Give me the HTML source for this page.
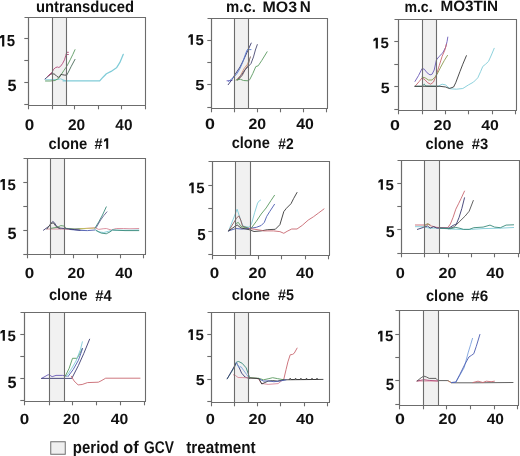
<!DOCTYPE html>
<html><head><meta charset="utf-8"><style>
html,body{margin:0;padding:0;background:#fff;}
body{width:520px;height:456px;overflow:hidden;}
svg{display:block;will-change:transform;}
text{font-family:"Liberation Sans",sans-serif;font-weight:bold;fill:#111;text-rendering:geometricPrecision;}
</style></head><body>
<svg width="520" height="456" viewBox="0 0 520 456">
<rect width="520" height="456" fill="#fff"/>
<rect x="52.5" y="17.5" width="14" height="88" fill="#f1f1f1"/>
<path d="M45.5 79.8L58 79.5L60.5 78.8L63 79.8L66 80.8" fill="none" stroke="#80ccd8" stroke-width="0.9" stroke-linejoin="round" stroke-linecap="round"/>
<path d="M63 80.8L99.7 80.8L103 77.2L106.4 73.8L111.1 71.4L116.5 67.8L119.9 62.4L123.3 54.3" fill="none" stroke="#80ccd8" stroke-width="1.25" stroke-linejoin="round" stroke-linecap="round"/>
<path d="M45.5 81L50 81L55 80.5L58.8 78.2L61.4 74.3L64 70.3L65.8 67.7L67.5 65L70.2 59.8L72.8 54.5L75 49.7" fill="none" stroke="#5a9a60" stroke-width="0.9" stroke-linejoin="round" stroke-linecap="round"/>
<path d="M66.7 75.1L68.4 72.1L71 66.8L75 59.4" fill="none" stroke="#4a6a58" stroke-width="0.9" stroke-linejoin="round" stroke-linecap="round"/>
<path d="M52.2 74.3L54 73.8L55.7 75.1L57 76.5L58.3 77.3L59.6 76.5L61 74.3L62.3 74.7L64.5 75.1L66.7 75.1" fill="none" stroke="#383838" stroke-width="0.9" stroke-linejoin="round" stroke-linecap="round"/>
<path d="M45 79L48.5 76L52 73" fill="none" stroke="#3a3a70" stroke-width="0.9" stroke-linejoin="round" stroke-linecap="round"/>
<path d="M47.5 76.5L50 74.3L52.2 73.8" fill="none" stroke="#8a5a5a" stroke-width="0.9" stroke-linejoin="round" stroke-linecap="round"/>
<path d="M48 76L52.2 72.1L53.5 69.4L55.7 67.5L57.5 67L58.8 67.5L60.5 66.4L62.7 63.3L64.5 59.8L65.8 55.4L66.7 52.3L68.4 52.3" fill="none" stroke="#b04878" stroke-width="0.9" stroke-linejoin="round" stroke-linecap="round"/>
<path d="M66.7 54.5L68.4 54.5" fill="none" stroke="#b04878" stroke-width="0.9" stroke-linejoin="round" stroke-linecap="round"/>
<path d="M24.5 17.5H145.5V105.5" fill="none" stroke="#6c6c6c" stroke-width="1.1"/>
<path d="M28.5 17.5V105.5" stroke="#6c6c6c" stroke-width="1.2"/>
<path d="M24.3 104.5H28.5" stroke="#6c6c6c" stroke-width="1.1"/>
<path d="M24.3 82.5H28.5" stroke="#6c6c6c" stroke-width="1.1"/>
<path d="M24.3 60.5H28.5" stroke="#6c6c6c" stroke-width="1.1"/>
<path d="M24.3 38.5H28.5" stroke="#6c6c6c" stroke-width="1.1"/>
<path d="M28 105.5H146" stroke="#6c6c6c" stroke-width="1.2"/>
<path d="M28.5 105.5V109.3" stroke="#6c6c6c" stroke-width="1.1"/>
<path d="M52.5 105.5V109.3" stroke="#6c6c6c" stroke-width="1.1"/>
<path d="M74.5 105.5V109.3" stroke="#6c6c6c" stroke-width="1.1"/>
<path d="M98.5 105.5V109.3" stroke="#6c6c6c" stroke-width="1.1"/>
<path d="M121.5 105.5V109.3" stroke="#6c6c6c" stroke-width="1.1"/>
<path d="M145.5 105.5V109.3" stroke="#6c6c6c" stroke-width="1.1"/>
<path d="M52.5 17.5V105.5M66.5 17.5V105.5" stroke="#6c6c6c" stroke-width="1.1"/>
<rect x="234.5" y="18.5" width="14" height="90" fill="#f1f1f1"/>
<path d="M227 80.8L232 80.5" fill="none" stroke="#6a5ab8" stroke-width="0.9" stroke-linejoin="round" stroke-linecap="round"/>
<path d="M228.2 84.7L232 79.5L235 74.5L240 67L244 59L247.7 50.8L251.2 43.1" fill="none" stroke="#3a3a70" stroke-width="0.9" stroke-linejoin="round" stroke-linecap="round"/>
<path d="M228.5 81.5L234 77L237 73.5L239.6 69.2L242.7 62.3L245 55.4L246.9 50.4L248.1 48.8" fill="none" stroke="#5a7cd0" stroke-width="0.9" stroke-linejoin="round" stroke-linecap="round"/>
<path d="M248.5 49.6L251 49.6" fill="none" stroke="#5a7cd0" stroke-width="0.9" stroke-linejoin="round" stroke-linecap="round"/>
<path d="M236.2 80L240.5 75.5L244.3 68.2L247.4 64.3L248.6 61.5" fill="none" stroke="#d09070" stroke-width="0.9" stroke-linejoin="round" stroke-linecap="round"/>
<path d="M237.8 80.2L242.3 75.3L245.4 69.2L248.1 65.4L249.6 59.2L250.4 56.9" fill="none" stroke="#7a5a50" stroke-width="0.9" stroke-linejoin="round" stroke-linecap="round"/>
<path d="M237.4 79.7L242 74.3L245 69.7L248.2 66.6L251 63.5L253.5 56.9L255.4 50L257.3 44.6" fill="none" stroke="#4a4a72" stroke-width="0.9" stroke-linejoin="round" stroke-linecap="round"/>
<path d="M236.2 80L240.5 79.3L243.5 80.5L248.2 80.8L249.7 79.7L252.8 73.5L255.8 66.6L258.2 65.8L261.7 60.6L267.1 51.8" fill="none" stroke="#5a9a60" stroke-width="0.9" stroke-linejoin="round" stroke-linecap="round"/>
<path d="M207.5 18.5H327.5V108.5" fill="none" stroke="#6c6c6c" stroke-width="1.1"/>
<path d="M211.5 18.5V108.5" stroke="#6c6c6c" stroke-width="1.2"/>
<path d="M207.3 107.5H211.5" stroke="#6c6c6c" stroke-width="1.1"/>
<path d="M207.3 84.5H211.5" stroke="#6c6c6c" stroke-width="1.1"/>
<path d="M207.3 62.5H211.5" stroke="#6c6c6c" stroke-width="1.1"/>
<path d="M207.3 40.5H211.5" stroke="#6c6c6c" stroke-width="1.1"/>
<path d="M211 108.5H328" stroke="#6c6c6c" stroke-width="1.2"/>
<path d="M211.5 108.5V112.3" stroke="#6c6c6c" stroke-width="1.1"/>
<path d="M234.5 108.5V112.3" stroke="#6c6c6c" stroke-width="1.1"/>
<path d="M257.5 108.5V112.3" stroke="#6c6c6c" stroke-width="1.1"/>
<path d="M280.5 108.5V112.3" stroke="#6c6c6c" stroke-width="1.1"/>
<path d="M303.5 108.5V112.3" stroke="#6c6c6c" stroke-width="1.1"/>
<path d="M326.5 108.5V112.3" stroke="#6c6c6c" stroke-width="1.1"/>
<path d="M234.5 18.5V108.5M248.5 18.5V108.5" stroke="#6c6c6c" stroke-width="1.1"/>
<rect x="422.5" y="19.5" width="14" height="91" fill="#f1f1f1"/>
<path d="M415 81.4L418.5 75.6L422.1 68.5L424.3 69.2L427.1 72.8L430 74.9L432.1 74.2L434.2 70L436.4 60L439.2 56.4L442.8 52.8L445.7 47.1L447.1 41.4L447.8 37.1" fill="none" stroke="#6a5ab8" stroke-width="0.9" stroke-linejoin="round" stroke-linecap="round"/>
<path d="M415 86.3L419.3 81.4L422.1 77.8L425 79.9L427.8 82.8L430.7 84.2L433.5 82L436.4 74.9L439.2 65.7L442.1 56.4L444.9 50L446.4 44.3" fill="none" stroke="#c86870" stroke-width="0.9" stroke-linejoin="round" stroke-linecap="round"/>
<path d="M422.1 77.1L425 77.8L428.5 80L432.1 80L435 77.1L437.1 74.2L440.7 67.1L444.2 60.7L447.5 55.4" fill="none" stroke="#8a9a50" stroke-width="0.9" stroke-linejoin="round" stroke-linecap="round"/>
<path d="M415 86.3L422 86.3L424.3 84.2L425.7 86L437.8 86.3" fill="none" stroke="#3a8a7a" stroke-width="0.9" stroke-linejoin="round" stroke-linecap="round"/>
<path d="M437.8 86.3L442.1 84.2L445.7 84.9L447.8 87L450.6 88.8L456.4 89.2L462.8 88.5L468.5 84.9L473.5 82.1L477.8 77.8L480.7 71.4L482.8 66.4L485.6 64.2L488.5 61.4L491.4 55L494.2 48.3" fill="none" stroke="#80ccd8" stroke-width="0.9" stroke-linejoin="round" stroke-linecap="round"/>
<path d="M415 86.3L440 86.3L445.7 87L449.3 88.5L453.6 87L455.7 82.8L460 71.4L462.8 64.2L466.4 55.7" fill="none" stroke="#383838" stroke-width="0.9" stroke-linejoin="round" stroke-linecap="round"/>
<path d="M394.5 19.5H516.5V110.5" fill="none" stroke="#6c6c6c" stroke-width="1.1"/>
<path d="M398.5 19.5V110.5" stroke="#6c6c6c" stroke-width="1.2"/>
<path d="M394.3 109.5H398.5" stroke="#6c6c6c" stroke-width="1.1"/>
<path d="M394.3 86.5H398.5" stroke="#6c6c6c" stroke-width="1.1"/>
<path d="M394.3 64.5H398.5" stroke="#6c6c6c" stroke-width="1.1"/>
<path d="M394.3 41.5H398.5" stroke="#6c6c6c" stroke-width="1.1"/>
<path d="M398 110.5H517" stroke="#6c6c6c" stroke-width="1.2"/>
<path d="M398.5 110.5V114.3" stroke="#6c6c6c" stroke-width="1.1"/>
<path d="M422.5 110.5V114.3" stroke="#6c6c6c" stroke-width="1.1"/>
<path d="M445.5 110.5V114.3" stroke="#6c6c6c" stroke-width="1.1"/>
<path d="M468.5 110.5V114.3" stroke="#6c6c6c" stroke-width="1.1"/>
<path d="M492.5 110.5V114.3" stroke="#6c6c6c" stroke-width="1.1"/>
<path d="M515.5 110.5V114.3" stroke="#6c6c6c" stroke-width="1.1"/>
<path d="M422.5 19.5V110.5M436.5 19.5V110.5" stroke="#6c6c6c" stroke-width="1.1"/>
<rect x="50.5" y="158.5" width="14" height="96" fill="#f1f1f1"/>
<path d="M46.9 229L60 229L70 229.3L80 228.8L95 227.75L98.75 229.4L103.1 228.75L106.25 228.5L111.25 230L116.25 228.5L123.75 228.5L130 228.75L138.75 228.5" fill="none" stroke="#d88898" stroke-width="0.9" stroke-linejoin="round" stroke-linecap="round"/>
<path d="M50.4 228.4L57.3 227.3L60.8 225.6L64.2 226.1L66.5 228.4L75 229L85 228.6" fill="none" stroke="#5a9a60" stroke-width="0.9" stroke-linejoin="round" stroke-linecap="round"/>
<path d="M80 228.6L88 228.4L95 228.1" fill="none" stroke="#c8c060" stroke-width="0.9" stroke-linejoin="round" stroke-linecap="round"/>
<path d="M70 229.5L80 230.4L87.5 230.6L95 230" fill="none" stroke="#4a5ab0" stroke-width="0.9" stroke-linejoin="round" stroke-linecap="round"/>
<path d="M43.5 230.2L49.2 226.1L52.7 221.5L54.4 222.7L56.1 225.6L58.5 227.9L63 228.4L68.8 229L74.6 229.6L80 230.2" fill="none" stroke="#3a3a70" stroke-width="0.9" stroke-linejoin="round" stroke-linecap="round"/>
<path d="M47 229L51 223.3L53.5 223L56 226.5L60 228.5" fill="none" stroke="#505050" stroke-width="0.9" stroke-linejoin="round" stroke-linecap="round"/>
<path d="M95 229.4L98.75 231.9L103.75 232.5L108.75 231.25L112.5 230L117.5 230.25L130 230.25L138.75 230" fill="none" stroke="#80ccd8" stroke-width="0.9" stroke-linejoin="round" stroke-linecap="round"/>
<path d="M96.25 230.6L101.25 233.1L106.25 233.75L110 231.9L112.5 230L125 230.6L138.75 230.6" fill="none" stroke="#3a8a7a" stroke-width="0.9" stroke-linejoin="round" stroke-linecap="round"/>
<path d="M95 228.1L98.75 221.9L102.5 215L106.25 206.9" fill="none" stroke="#3a8a7a" stroke-width="0.9" stroke-linejoin="round" stroke-linecap="round"/>
<path d="M96.25 227.5L100.6 220L103.75 215.6L106.9 211.9" fill="none" stroke="#606090" stroke-width="0.9" stroke-linejoin="round" stroke-linecap="round"/>
<path d="M23.5 158.5H145.5V254.5" fill="none" stroke="#6c6c6c" stroke-width="1.1"/>
<path d="M27.5 158.5V254.5" stroke="#6c6c6c" stroke-width="1.2"/>
<path d="M23.3 254.5H27.5" stroke="#6c6c6c" stroke-width="1.1"/>
<path d="M23.3 230.5H27.5" stroke="#6c6c6c" stroke-width="1.1"/>
<path d="M23.3 206.5H27.5" stroke="#6c6c6c" stroke-width="1.1"/>
<path d="M23.3 182.5H27.5" stroke="#6c6c6c" stroke-width="1.1"/>
<path d="M27 254.5H146" stroke="#6c6c6c" stroke-width="1.2"/>
<path d="M27.5 254.5V258.3" stroke="#6c6c6c" stroke-width="1.1"/>
<path d="M50.5 254.5V258.3" stroke="#6c6c6c" stroke-width="1.1"/>
<path d="M73.5 254.5V258.3" stroke="#6c6c6c" stroke-width="1.1"/>
<path d="M97.5 254.5V258.3" stroke="#6c6c6c" stroke-width="1.1"/>
<path d="M120.5 254.5V258.3" stroke="#6c6c6c" stroke-width="1.1"/>
<path d="M143.5 254.5V258.3" stroke="#6c6c6c" stroke-width="1.1"/>
<path d="M50.5 158.5V254.5M64.5 158.5V254.5" stroke="#6c6c6c" stroke-width="1.1"/>
<rect x="235.5" y="161.5" width="15" height="94" fill="#f1f1f1"/>
<path d="M228.6 230.9L237.1 209.2L240.7 220L243.1 226.1L249.2 227.3L251.6 223.6L254.6 212.8L257.6 203.1L259.4 200.7L260.6 200.1" fill="none" stroke="#80ccd8" stroke-width="0.9" stroke-linejoin="round" stroke-linecap="round"/>
<path d="M228.6 230.9L236.5 218.2L238.9 215.8L240.7 220L242.5 226.1L249.2 228.5" fill="none" stroke="#8a5a5a" stroke-width="0.9" stroke-linejoin="round" stroke-linecap="round"/>
<path d="M235.9 223.6L238.3 222.4L241 226.5L249 228.5L251 228.5L256.4 221.2L261.2 214L266.1 208L270.9 200.7L274.5 195.3" fill="none" stroke="#5a9a60" stroke-width="0.9" stroke-linejoin="round" stroke-linecap="round"/>
<path d="M228.6 230.9L235.9 228.5L241.9 229.1L249.2 228.5L256.4 227.3L261.2 225.5L264.3 222.4L266.7 216.4L269.7 211.6L274.5 204.3" fill="none" stroke="#4a5ab0" stroke-width="0.9" stroke-linejoin="round" stroke-linecap="round"/>
<path d="M228.6 230.9L237.1 224.9L241 228L249.2 229.7L254 231.5L261.2 230.9L267.3 229.7L275.3 229.3L279.9 224.7L283.8 211.6L286.4 208.3L291 203.7L293.7 198.4L297 192.5" fill="none" stroke="#383838" stroke-width="0.9" stroke-linejoin="round" stroke-linecap="round"/>
<path d="M249.2 228.5L255 229.3L261.2 230.3L263.6 230.9L273.3 230.9L279.9 231.6L283.8 233.3L287.1 231.3L291.7 229L297 229L302.2 225.4L308.2 220.1L313.4 216.8L318.7 212.9L324 208.9" fill="none" stroke="#c86870" stroke-width="0.9" stroke-linejoin="round" stroke-linecap="round"/>
<path d="M208.5 161.5H329.5V255.5" fill="none" stroke="#6c6c6c" stroke-width="1.1"/>
<path d="M212.5 161.5V255.5" stroke="#6c6c6c" stroke-width="1.2"/>
<path d="M208.3 254.5H212.5" stroke="#6c6c6c" stroke-width="1.1"/>
<path d="M208.3 231.5H212.5" stroke="#6c6c6c" stroke-width="1.1"/>
<path d="M208.3 208.5H212.5" stroke="#6c6c6c" stroke-width="1.1"/>
<path d="M208.3 185.5H212.5" stroke="#6c6c6c" stroke-width="1.1"/>
<path d="M212 255.5H330" stroke="#6c6c6c" stroke-width="1.2"/>
<path d="M212.5 255.5V259.3" stroke="#6c6c6c" stroke-width="1.1"/>
<path d="M235.5 255.5V259.3" stroke="#6c6c6c" stroke-width="1.1"/>
<path d="M258.5 255.5V259.3" stroke="#6c6c6c" stroke-width="1.1"/>
<path d="M281.5 255.5V259.3" stroke="#6c6c6c" stroke-width="1.1"/>
<path d="M305.5 255.5V259.3" stroke="#6c6c6c" stroke-width="1.1"/>
<path d="M328.5 255.5V259.3" stroke="#6c6c6c" stroke-width="1.1"/>
<path d="M235.5 161.5V255.5M250.5 161.5V255.5" stroke="#6c6c6c" stroke-width="1.1"/>
<rect x="424.5" y="160.5" width="15" height="93" fill="#f1f1f1"/>
<path d="M415.4 226.7L423.5 226.7L428.8 228.1L439.6 228.1L450 229L460 229.4L471.5 229.4L483 228.6L500 228.2L513.6 227.5" fill="none" stroke="#80ccd8" stroke-width="0.9" stroke-linejoin="round" stroke-linecap="round"/>
<path d="M415.4 225L426.2 225L428.8 224L431.5 226L436.9 227.4L447.7 227.8L450.4 224L453.1 217.3L455.8 209.2L458.5 203.8L461.1 198.5L464.5 191.1" fill="none" stroke="#c86870" stroke-width="0.9" stroke-linejoin="round" stroke-linecap="round"/>
<path d="M417.4 229.4L423.5 227.4L427.5 226L430.2 228.1L433.6 226.7L436.9 228.1L449 228.1L453.1 225.4L456.4 224L459.1 217.3L461.8 208.6L464.5 197.8" fill="none" stroke="#3a3a70" stroke-width="0.9" stroke-linejoin="round" stroke-linecap="round"/>
<path d="M449 228.7L454.4 226.7L459.8 221.3L465.2 216L469.2 211.2L473.3 200.5" fill="none" stroke="#505050" stroke-width="0.9" stroke-linejoin="round" stroke-linecap="round"/>
<path d="M439.6 228.1L450.4 228.7L455.8 227.4L460 228.3L463.5 229.4L469.2 229.4L473.8 227.7L483.1 227.1L490 225.1L494.6 227.1L500.4 227.7L506.1 225.1L513.6 224.8" fill="none" stroke="#3a8a7a" stroke-width="0.9" stroke-linejoin="round" stroke-linecap="round"/>
<path d="M424 226L427.5 223.5L430 225.5" fill="none" stroke="#8a9a50" stroke-width="0.9" stroke-linejoin="round" stroke-linecap="round"/>
<path d="M397.5 160.5H519.5V253.5" fill="none" stroke="#6c6c6c" stroke-width="1.1"/>
<path d="M401.5 160.5V253.5" stroke="#6c6c6c" stroke-width="1.2"/>
<path d="M397.3 253.5H401.5" stroke="#6c6c6c" stroke-width="1.1"/>
<path d="M397.3 229.5H401.5" stroke="#6c6c6c" stroke-width="1.1"/>
<path d="M397.3 206.5H401.5" stroke="#6c6c6c" stroke-width="1.1"/>
<path d="M397.3 183.5H401.5" stroke="#6c6c6c" stroke-width="1.1"/>
<path d="M401 253.5H520" stroke="#6c6c6c" stroke-width="1.2"/>
<path d="M401.5 253.5V257.3" stroke="#6c6c6c" stroke-width="1.1"/>
<path d="M424.5 253.5V257.3" stroke="#6c6c6c" stroke-width="1.1"/>
<path d="M448.5 253.5V257.3" stroke="#6c6c6c" stroke-width="1.1"/>
<path d="M471.5 253.5V257.3" stroke="#6c6c6c" stroke-width="1.1"/>
<path d="M494.5 253.5V257.3" stroke="#6c6c6c" stroke-width="1.1"/>
<path d="M518.5 253.5V257.3" stroke="#6c6c6c" stroke-width="1.1"/>
<path d="M424.5 160.5V253.5M439.5 160.5V253.5" stroke="#6c6c6c" stroke-width="1.1"/>
<rect x="49.5" y="312.5" width="15" height="89" fill="#f1f1f1"/>
<path d="M41.6 378.4L48.2 374.7L50.1 375.4L52.1 376.7L56 375.4L62.6 375.4L66.6 376.1" fill="none" stroke="#6a5ab8" stroke-width="0.9" stroke-linejoin="round" stroke-linecap="round"/>
<path d="M41.6 378.4L71.8 378.4L78.4 365.5L83.7 353.7L89.6 339.2" fill="none" stroke="#3a3a70" stroke-width="0.9" stroke-linejoin="round" stroke-linecap="round"/>
<path d="M65.3 376.1L69.2 368.2L72.5 358.3L77.1 358.3L79.7 353.7L82.4 348.4" fill="none" stroke="#5a9a60" stroke-width="0.9" stroke-linejoin="round" stroke-linecap="round"/>
<path d="M66.6 376.1L71.8 368.2L76 361L80.4 349.7L82.4 341.8" fill="none" stroke="#80ccd8" stroke-width="0.9" stroke-linejoin="round" stroke-linecap="round"/>
<path d="M67.9 376.7L73.2 369.5L78.4 360.3L81.7 351.1L82.4 348.4" fill="none" stroke="#4a5ab0" stroke-width="0.9" stroke-linejoin="round" stroke-linecap="round"/>
<path d="M71.3 376.2L74 380.9L78.1 384.9L82.1 384.5L87.5 382.6L98.3 382.2L101 380.9L105.7 378.2L140 378.2" fill="none" stroke="#c86870" stroke-width="0.9" stroke-linejoin="round" stroke-linecap="round"/>
<path d="M20.5 312.5H145.5V401.5" fill="none" stroke="#6c6c6c" stroke-width="1.1"/>
<path d="M24.5 312.5V401.5" stroke="#6c6c6c" stroke-width="1.2"/>
<path d="M20.3 400.5H24.5" stroke="#6c6c6c" stroke-width="1.1"/>
<path d="M20.3 378.5H24.5" stroke="#6c6c6c" stroke-width="1.1"/>
<path d="M20.3 356.5H24.5" stroke="#6c6c6c" stroke-width="1.1"/>
<path d="M20.3 334.5H24.5" stroke="#6c6c6c" stroke-width="1.1"/>
<path d="M24 401.5H146" stroke="#6c6c6c" stroke-width="1.2"/>
<path d="M24.5 401.5V405.3" stroke="#6c6c6c" stroke-width="1.1"/>
<path d="M49.5 401.5V405.3" stroke="#6c6c6c" stroke-width="1.1"/>
<path d="M72.5 401.5V405.3" stroke="#6c6c6c" stroke-width="1.1"/>
<path d="M96.5 401.5V405.3" stroke="#6c6c6c" stroke-width="1.1"/>
<path d="M120.5 401.5V405.3" stroke="#6c6c6c" stroke-width="1.1"/>
<path d="M144.5 401.5V405.3" stroke="#6c6c6c" stroke-width="1.1"/>
<path d="M49.5 312.5V401.5M64.5 312.5V401.5" stroke="#6c6c6c" stroke-width="1.1"/>
<rect x="234.5" y="312.5" width="14" height="90" fill="#f1f1f1"/>
<path d="M227.2 378.8L231.2 372.5L234.7 366.7L236.4 362.1L238.7 361.5L242.2 363.3L246.2 367.9L248 373.1L249.7 377.7" fill="none" stroke="#3a8a7a" stroke-width="0.9" stroke-linejoin="round" stroke-linecap="round"/>
<path d="M227.2 378.8L236.4 362.7L239.3 367.9L241.6 373.1L245.1 377.1L249.7 378.6" fill="none" stroke="#3a3a70" stroke-width="0.9" stroke-linejoin="round" stroke-linecap="round"/>
<path d="M236.4 362.7L238.7 367.3L241 366.7L243.9 370.8L246.8 374.8L249.1 377.7" fill="none" stroke="#7aa0dc" stroke-width="0.9" stroke-linejoin="round" stroke-linecap="round"/>
<path d="M233.5 374.8L235.3 375.4L238.1 377.5L245.1 377.7L256.6 378.3L258.9 379.4L261.2 383.4L268.1 384.4L278.1 383.6L281.5 380.9L283.8 379.2" fill="none" stroke="#d88898" stroke-width="0.9" stroke-linejoin="round" stroke-linecap="round"/>
<path d="M283.8 379.2L286.1 369.4L287.9 361.9L290.2 354.8L292.5 354.4L294.2 353.3L297.1 348.1" fill="none" stroke="#c86870" stroke-width="0.9" stroke-linejoin="round" stroke-linecap="round"/>
<path d="M249.7 377.7L258.9 378.3L263.5 379.8L268.1 378.8L272.7 377.7L277.4 378.6L283.8 379.8" fill="none" stroke="#5a9a60" stroke-width="0.9" stroke-linejoin="round" stroke-linecap="round"/>
<path d="M249.7 378L258.9 378.6L261.8 384L264.1 382.9L268.1 381.1L272.7 380.6L277.4 381.1L283.8 379.8L323 379.4" fill="none" stroke="#383838" stroke-width="0.9" stroke-linejoin="round" stroke-linecap="round"/>
<path d="M289.3 379.5L290.2 378.2L291.1 379.5L294.7 379.5L295.6 378.2L296.5 379.5L300 379.5L300.9 378.2L301.8 379.5L305.6 379.5L306.5 378.2L307.4 379.5L311.1 379.5L312 378.2L312.9 379.5L316.1 379.5L317 378.2L317.9 379.5" fill="none" stroke="#383838" stroke-width="0.9" stroke-linejoin="round" stroke-linecap="round"/>
<path d="M260.1 379.4L263.5 381.1L268.1 380.9L273.9 381.7L279.7 381.1L286.1 379.8" fill="none" stroke="#4a5ab0" stroke-width="0.9" stroke-linejoin="round" stroke-linecap="round"/>
<path d="M207.5 312.5H329.5V402.5" fill="none" stroke="#6c6c6c" stroke-width="1.1"/>
<path d="M211.5 312.5V402.5" stroke="#6c6c6c" stroke-width="1.2"/>
<path d="M207.3 401.5H211.5" stroke="#6c6c6c" stroke-width="1.1"/>
<path d="M207.3 379.5H211.5" stroke="#6c6c6c" stroke-width="1.1"/>
<path d="M207.3 356.5H211.5" stroke="#6c6c6c" stroke-width="1.1"/>
<path d="M207.3 334.5H211.5" stroke="#6c6c6c" stroke-width="1.1"/>
<path d="M211 402.5H330" stroke="#6c6c6c" stroke-width="1.2"/>
<path d="M211.5 402.5V406.3" stroke="#6c6c6c" stroke-width="1.1"/>
<path d="M234.5 402.5V406.3" stroke="#6c6c6c" stroke-width="1.1"/>
<path d="M257.5 402.5V406.3" stroke="#6c6c6c" stroke-width="1.1"/>
<path d="M280.5 402.5V406.3" stroke="#6c6c6c" stroke-width="1.1"/>
<path d="M304.5 402.5V406.3" stroke="#6c6c6c" stroke-width="1.1"/>
<path d="M327.5 402.5V406.3" stroke="#6c6c6c" stroke-width="1.1"/>
<path d="M234.5 312.5V402.5M248.5 312.5V402.5" stroke="#6c6c6c" stroke-width="1.1"/>
<rect x="423.5" y="310.5" width="15" height="95" fill="#f1f1f1"/>
<path d="M417.1 381L438 381" fill="none" stroke="#d88898" stroke-width="0.9" stroke-linejoin="round" stroke-linecap="round"/>
<path d="M417.1 381L423.8 379.7L429.2 380.4L438 381" fill="none" stroke="#b04878" stroke-width="0.9" stroke-linejoin="round" stroke-linecap="round"/>
<path d="M417.1 381L421.2 377.7L423.8 376.1L426.5 377L429.2 378.4L436 378.4L438 380.6L448.1 380.6L451.4 382.8L475 382.8L513 382.5" fill="none" stroke="#505050" stroke-width="0.9" stroke-linejoin="round" stroke-linecap="round"/>
<path d="M448.1 381L450.8 382.4" fill="none" stroke="#d09070" stroke-width="0.9" stroke-linejoin="round" stroke-linecap="round"/>
<path d="M473 382.5L478 381.2L482.9 382.5L486.2 381.2L491.1 381.7L494.4 381.2" fill="none" stroke="#c86870" stroke-width="0.9" stroke-linejoin="round" stroke-linecap="round"/>
<path d="M451.6 382.5L455.8 382.2L458.8 377L464.2 367.6L468.1 352.9L470.6 344.7L472.5 338.4" fill="none" stroke="#7aa0dc" stroke-width="0.9" stroke-linejoin="round" stroke-linecap="round"/>
<path d="M451.6 382.5L455.8 382.2L459.9 374.3L464.8 364.4L468.9 357L471.4 355.4L473.8 353.7L476.3 346.3L479.9 334.5" fill="none" stroke="#4a5ab0" stroke-width="0.9" stroke-linejoin="round" stroke-linecap="round"/>
<path d="M395.5 310.5H518.5V405.5" fill="none" stroke="#6c6c6c" stroke-width="1.1"/>
<path d="M399.5 310.5V405.5" stroke="#6c6c6c" stroke-width="1.2"/>
<path d="M395.3 404.5H399.5" stroke="#6c6c6c" stroke-width="1.1"/>
<path d="M395.3 380.5H399.5" stroke="#6c6c6c" stroke-width="1.1"/>
<path d="M395.3 357.5H399.5" stroke="#6c6c6c" stroke-width="1.1"/>
<path d="M395.3 334.5H399.5" stroke="#6c6c6c" stroke-width="1.1"/>
<path d="M399 405.5H519" stroke="#6c6c6c" stroke-width="1.2"/>
<path d="M399.5 405.5V409.3" stroke="#6c6c6c" stroke-width="1.1"/>
<path d="M423.5 405.5V409.3" stroke="#6c6c6c" stroke-width="1.1"/>
<path d="M446.5 405.5V409.3" stroke="#6c6c6c" stroke-width="1.1"/>
<path d="M470.5 405.5V409.3" stroke="#6c6c6c" stroke-width="1.1"/>
<path d="M494.5 405.5V409.3" stroke="#6c6c6c" stroke-width="1.1"/>
<path d="M517.5 405.5V409.3" stroke="#6c6c6c" stroke-width="1.1"/>
<path d="M423.5 310.5V405.5M438.5 310.5V405.5" stroke="#6c6c6c" stroke-width="1.1"/>
<rect x="50.75" y="441.75" width="14.5" height="12.5" fill="#efefef" stroke="#6e6e6e" stroke-width="1"/>
<text transform="matrix(0.8808 0 0 1.0000 72.83 453.10)" font-size="17.00">period</text>
<text transform="matrix(0.9620 0 0 1.0000 123.25 453.10)" font-size="17.00">of</text>
<text transform="matrix(0.8102 0 0 1.0000 144.05 453.10)" font-size="17.00">GCV</text>
<text transform="matrix(0.8976 0 0 1.0000 186.15 453.10)" font-size="17.00">treatment</text>
<text transform="matrix(0.9240 0 0 1.0000 36.01 11.54)" font-size="16.05">untransduced</text>
<text transform="matrix(0.9291 0 0 1.0000 226.03 11.64)" font-size="16.00">m.c.</text>
<text transform="matrix(1.0506 0 0 1.0000 262.46 11.55)" font-size="15.21">MO3</text>
<text transform="matrix(0.9746 0 0 1.0000 299.71 11.70)" font-size="15.65">N</text>
<text transform="matrix(0.9135 0 0 1.0000 404.38 11.55)" font-size="15.45">m.c.</text>
<text transform="matrix(1.0236 0 0 1.0000 440.41 11.45)" font-size="14.93">MO3TIN</text>
<text transform="matrix(0.9214 0 0 1.0000 48.61 148.64)" font-size="16.05">clone</text>
<text transform="matrix(0.9287 0 0 1.0000 94.48 148.80)" font-size="15.59">#</text>
<text transform="matrix(0.9091 0 0 1.0000 231.72 148.44)" font-size="16.05">clone</text>
<text transform="matrix(0.8970 0 0 1.0000 278.29 148.60)" font-size="15.43">#2</text>
<text transform="matrix(0.9165 0 0 1.0000 425.61 148.64)" font-size="16.05">clone</text>
<text transform="matrix(0.9737 0 0 1.0000 471.78 148.65)" font-size="15.21">#3</text>
<text transform="matrix(0.9190 0 0 1.0000 48.91 300.44)" font-size="16.05">clone</text>
<text transform="matrix(0.9437 0 0 1.0000 95.18 300.60)" font-size="15.65">#4</text>
<text transform="matrix(0.9141 0 0 1.0000 231.71 300.44)" font-size="16.05">clone</text>
<text transform="matrix(0.9268 0 0 1.0000 277.99 300.45)" font-size="15.43">#5</text>
<text transform="matrix(0.9165 0 0 1.0000 425.91 300.64)" font-size="16.05">clone</text>
<text transform="matrix(1.0047 0 0 1.0000 471.27 300.65)" font-size="15.21">#6</text>
<path d="M108.20 138.20L108.20 148.80L106.20 148.80L106.20 140.70L104.00 141.90L104.00 139.90L105.90 138.20Z" fill="#111"/>
<text transform="matrix(0.9459 0 0 1.0000 6.85 46.24)" font-size="15.86">5</text>
<path d="M4.30 35.00L4.30 46.40L2.10 46.40L2.10 37.50L-0.20 38.70L-0.20 36.70L1.80 35.00Z" fill="#111"/>
<text transform="matrix(0.9947 0 0 1.0000 7.41 91.24)" font-size="16.29">5</text>
<text transform="matrix(1.0294 0 0 1.0000 195.45 44.65)" font-size="14.57">5</text>
<path d="M192.90 34.30L192.90 44.80L190.70 44.80L190.70 36.80L188.40 38.00L188.40 36.00L190.40 34.30Z" fill="#111"/>
<text transform="matrix(1.1366 0 0 1.0000 195.21 89.86)" font-size="14.43">5</text>
<text transform="matrix(1.0096 0 0 1.0000 380.45 48.25)" font-size="14.86">5</text>
<path d="M377.90 37.70L377.90 48.40L375.70 48.40L375.70 40.20L373.40 41.40L373.40 39.40L375.40 37.70Z" fill="#111"/>
<text transform="matrix(1.0667 0 0 1.0000 380.72 93.35)" font-size="15.00">5</text>
<text transform="matrix(0.9722 0 0 1.0000 7.45 189.85)" font-size="15.43">5</text>
<path d="M4.90 178.90L4.90 190.00L2.70 190.00L2.70 181.40L0.40 182.60L0.40 180.60L2.40 178.90Z" fill="#111"/>
<text transform="matrix(0.9947 0 0 1.0000 7.61 238.64)" font-size="16.29">5</text>
<text transform="matrix(1.0096 0 0 1.0000 196.25 193.15)" font-size="14.86">5</text>
<path d="M193.70 182.60L193.70 193.30L191.50 193.30L191.50 185.10L189.20 186.30L189.20 184.30L191.20 182.60Z" fill="#111"/>
<text transform="matrix(0.9500 0 0 1.0000 197.34 240.04)" font-size="16.00">5</text>
<text transform="matrix(1.0194 0 0 1.0000 385.45 189.65)" font-size="14.71">5</text>
<path d="M382.90 179.20L382.90 189.80L380.70 189.80L380.70 181.70L378.40 182.90L378.40 180.90L380.40 179.20Z" fill="#111"/>
<text transform="matrix(1.0182 0 0 1.0000 385.72 236.84)" font-size="15.71">5</text>
<text transform="matrix(1.0000 0 0 1.0000 7.45 340.65)" font-size="15.00">5</text>
<path d="M4.90 330.00L4.90 340.80L2.70 340.80L2.70 332.50L0.40 333.70L0.40 331.70L2.40 330.00Z" fill="#111"/>
<text transform="matrix(0.9947 0 0 1.0000 7.61 387.64)" font-size="16.29">5</text>
<text transform="matrix(1.0000 0 0 1.0000 195.45 339.85)" font-size="15.00">5</text>
<path d="M192.90 329.20L192.90 340.00L190.70 340.00L190.70 331.70L188.40 332.90L188.40 330.90L190.40 329.20Z" fill="#111"/>
<text transform="matrix(1.0980 0 0 1.0000 195.72 385.35)" font-size="14.57">5</text>
<text transform="matrix(1.0096 0 0 1.0000 385.05 341.35)" font-size="14.86">5</text>
<path d="M382.50 330.80L382.50 341.50L380.30 341.50L380.30 333.30L378.00 334.50L378.00 332.50L380.00 330.80Z" fill="#111"/>
<text transform="matrix(0.9130 0 0 1.0000 385.85 389.64)" font-size="16.43">5</text>
<text transform="matrix(1.1007 0 0 1.0000 24.72 129.85)" font-size="15.49">0</text>
<text transform="matrix(0.9978 0 0 1.0000 67.96 129.85)" font-size="15.49">20</text>
<text transform="matrix(0.9911 0 0 1.0000 115.37 129.85)" font-size="15.49">40</text>
<text transform="matrix(1.1764 0 0 1.0000 205.08 129.45)" font-size="15.21">0</text>
<text transform="matrix(1.0417 0 0 1.0000 248.45 129.45)" font-size="15.21">20</text>
<text transform="matrix(1.0406 0 0 1.0000 296.26 129.45)" font-size="15.21">40</text>
<text transform="matrix(1.2579 0 0 1.0000 390.08 130.16)" font-size="14.23">0</text>
<text transform="matrix(1.1411 0 0 1.0000 433.43 130.16)" font-size="14.23">20</text>
<text transform="matrix(1.1128 0 0 1.0000 481.26 130.16)" font-size="14.23">40</text>
<text transform="matrix(1.1531 0 0 1.0000 24.72 277.85)" font-size="14.79">0</text>
<text transform="matrix(1.0584 0 0 1.0000 67.55 277.85)" font-size="14.79">20</text>
<text transform="matrix(1.0640 0 0 1.0000 115.36 277.85)" font-size="14.79">40</text>
<text transform="matrix(1.1422 0 0 1.0000 209.72 277.85)" font-size="14.93">0</text>
<text transform="matrix(1.0872 0 0 1.0000 248.43 277.85)" font-size="14.93">20</text>
<text transform="matrix(1.0793 0 0 1.0000 296.06 277.85)" font-size="14.93">40</text>
<text transform="matrix(1.1104 0 0 1.0000 395.84 277.95)" font-size="14.79">0</text>
<text transform="matrix(1.0976 0 0 1.0000 438.43 277.95)" font-size="14.79">20</text>
<text transform="matrix(1.0960 0 0 1.0000 486.26 277.95)" font-size="14.79">40</text>
<text transform="matrix(1.1531 0 0 1.0000 19.72 423.85)" font-size="14.79">0</text>
<text transform="matrix(1.0257 0 0 1.0000 63.07 423.85)" font-size="14.79">20</text>
<text transform="matrix(1.0640 0 0 1.0000 110.76 423.85)" font-size="14.79">40</text>
<text transform="matrix(1.1211 0 0 1.0000 205.84 423.65)" font-size="14.65">0</text>
<text transform="matrix(1.1081 0 0 1.0000 248.43 423.65)" font-size="14.65">20</text>
<text transform="matrix(1.1130 0 0 1.0000 295.96 423.65)" font-size="14.65">40</text>
<text transform="matrix(1.1986 0 0 1.0000 395.08 423.65)" font-size="14.93">0</text>
<text transform="matrix(1.0872 0 0 1.0000 438.43 423.65)" font-size="14.93">20</text>
<text transform="matrix(1.0412 0 0 1.0000 486.67 423.65)" font-size="14.93">40</text>
</svg>
</body></html>
